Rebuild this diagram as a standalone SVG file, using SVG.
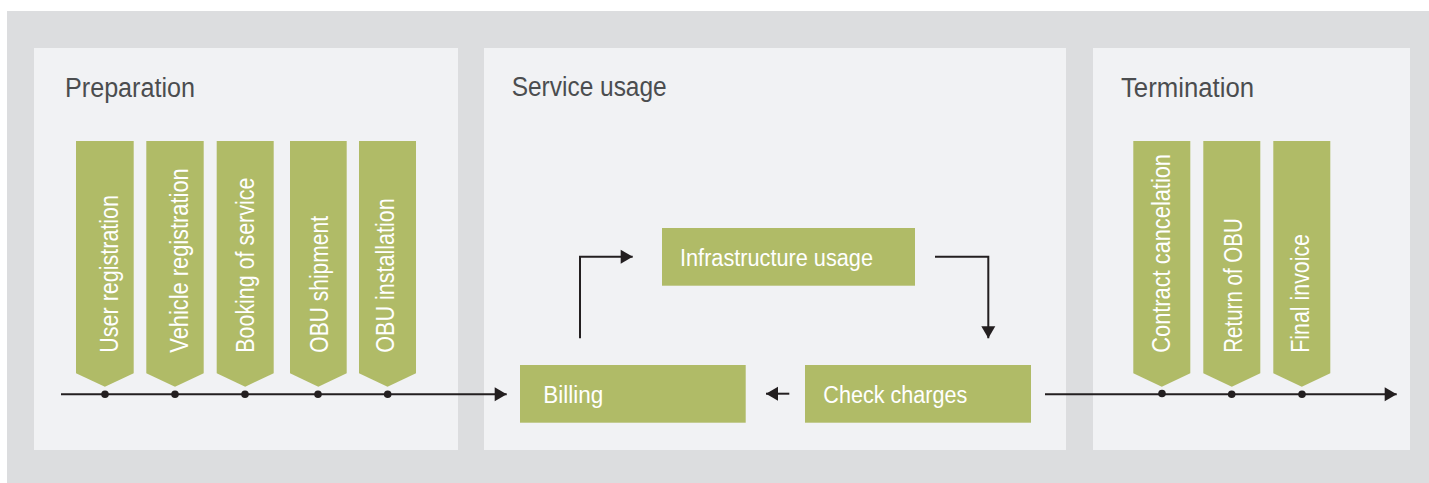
<svg xmlns="http://www.w3.org/2000/svg" width="1429" height="483" viewBox="0 0 1429 483">
  <defs>
    <style>
      .frame { fill: #dcdddf; }
      .panel { fill: #f1f2f4; }
      .box { fill: #b0bb67; }
      .title { font-family: "Liberation Sans", Arial, sans-serif; font-size: 27px; fill: #4b4d4f; }
      .label { font-family: "Liberation Sans", Arial, sans-serif; font-size: 23px; fill: #ffffff; }
      .vlabel { font-family: "Liberation Sans", Arial, sans-serif; font-size: 25.5px; fill: #ffffff; }
      .line { fill: none; stroke: #231f20; stroke-width: 2; }
      .dot { fill: #231f20; }
    </style>
    <marker id="arrow" markerUnits="userSpaceOnUse" markerWidth="12" markerHeight="14" refX="12" refY="7" orient="auto" overflow="visible">
      <path d="M0,0 L12,7 L0,14 Z" fill="#231f20"/>
    </marker>
  </defs>

  <!-- background frame and phase panels -->
  <rect class="frame" x="7" y="11" width="1422" height="472"/>
  <g id="panel-preparation">
    <rect class="panel" x="34" y="48" width="424" height="402"/>
    <text class="title" x="65" y="97" textLength="130" lengthAdjust="spacingAndGlyphs">Preparation</text>
  </g>
  <g id="panel-service-usage">
    <rect class="panel" x="484" y="48" width="582" height="402"/>
    <text class="title" x="511.7" y="96" textLength="155" lengthAdjust="spacingAndGlyphs">Service usage</text>
  </g>
  <g id="panel-termination">
    <rect class="panel" x="1093" y="48" width="317" height="402"/>
    <text class="title" x="1121" y="96.7" textLength="133" lengthAdjust="spacingAndGlyphs">Termination</text>
  </g>

  <!-- preparation steps -->
  <g id="step-user-registration">
    <path class="box" d="M76,141 H133.7 V373.3 L104.9,386.7 L76,373.3 Z"/>
    <text class="vlabel" transform="translate(118.3,352.7) rotate(-90)" textLength="157.7" lengthAdjust="spacingAndGlyphs">User registration</text>
  </g>
  <g id="step-vehicle-registration">
    <path class="box" d="M146.3,141 H203.7 V373.3 L175,386.7 L146.3,373.3 Z"/>
    <text class="vlabel" transform="translate(187.7,352.7) rotate(-90)" textLength="184.4" lengthAdjust="spacingAndGlyphs">Vehicle registration</text>
  </g>
  <g id="step-booking-of-service">
    <path class="box" d="M216.7,141 H273.7 V373.3 L245.2,386.7 L216.7,373.3 Z"/>
    <text class="vlabel" transform="translate(254,352.7) rotate(-90)" textLength="175" lengthAdjust="spacingAndGlyphs">Booking of service</text>
  </g>
  <g id="step-obu-shipment">
    <path class="box" d="M290,141 H346.7 V373.3 L318.3,386.7 L290,373.3 Z"/>
    <text class="vlabel" transform="translate(327.7,352.7) rotate(-90)" textLength="136.7" lengthAdjust="spacingAndGlyphs">OBU shipment</text>
  </g>
  <g id="step-obu-installation">
    <path class="box" d="M359,141 H416 V373.3 L387.5,386.7 L359,373.3 Z"/>
    <text class="vlabel" transform="translate(394.3,352.7) rotate(-90)" textLength="154.4" lengthAdjust="spacingAndGlyphs">OBU installation</text>
  </g>

  <!-- service usage cycle -->
  <g id="step-infrastructure-usage">
    <rect class="box" x="662" y="228" width="253" height="57.7"/>
    <text class="label" x="680" y="265.7" textLength="193" lengthAdjust="spacingAndGlyphs">Infrastructure usage</text>
  </g>
  <g id="step-billing">
    <rect class="box" x="520" y="365" width="225.7" height="57.7"/>
    <text class="label" x="543.3" y="402.7" textLength="60" lengthAdjust="spacingAndGlyphs">Billing</text>
  </g>
  <g id="step-check-charges">
    <rect class="box" x="805" y="365" width="226" height="57.7"/>
    <text class="label" x="823.3" y="402.7" textLength="144" lengthAdjust="spacingAndGlyphs">Check charges</text>
  </g>

  <!-- termination steps -->
  <g id="step-contract-cancelation">
    <path class="box" d="M1133.3,141 H1190.3 V373.3 L1161.8,386.7 L1133.3,373.3 Z"/>
    <text class="vlabel" transform="translate(1170,352.7) rotate(-90)" textLength="198.7" lengthAdjust="spacingAndGlyphs">Contract cancelation</text>
  </g>
  <g id="step-return-of-obu">
    <path class="box" d="M1203.3,141 H1260.3 V373.3 L1231.8,386.7 L1203.3,373.3 Z"/>
    <text class="vlabel" transform="translate(1241.7,352.7) rotate(-90)" textLength="134.4" lengthAdjust="spacingAndGlyphs">Return of OBU</text>
  </g>
  <g id="step-final-invoice">
    <path class="box" d="M1273.3,141 H1330.3 V373.3 L1301.8,386.7 L1273.3,373.3 Z"/>
    <text class="vlabel" transform="translate(1309.3,352.7) rotate(-90)" textLength="118.7" lengthAdjust="spacingAndGlyphs">Final invoice</text>
  </g>

  <!-- timeline and cycle connectors -->
  <g id="connectors">
    <path class="line" d="M61,394.3 H506.7" marker-end="url(#arrow)"/>
    <path class="line" d="M580,338.3 V256.7 H632.7" marker-end="url(#arrow)"/>
    <path class="line" d="M935,256.7 H988.3 V338.3" marker-end="url(#arrow)"/>
    <path class="line" d="M789.3,393.7 H766" marker-end="url(#arrow)"/>
    <path class="line" d="M1045,394.3 H1396.7" marker-end="url(#arrow)"/>
    <circle class="dot" cx="105" cy="394.3" r="3.8"/>
    <circle class="dot" cx="175" cy="394.3" r="3.8"/>
    <circle class="dot" cx="245" cy="394.3" r="3.8"/>
    <circle class="dot" cx="318" cy="394.3" r="3.8"/>
    <circle class="dot" cx="387.7" cy="394.3" r="3.8"/>
    <circle class="dot" cx="1162" cy="393.5" r="3.8"/>
    <circle class="dot" cx="1231.7" cy="394.3" r="3.8"/>
    <circle class="dot" cx="1302" cy="394.3" r="3.8"/>
  </g>
</svg>
